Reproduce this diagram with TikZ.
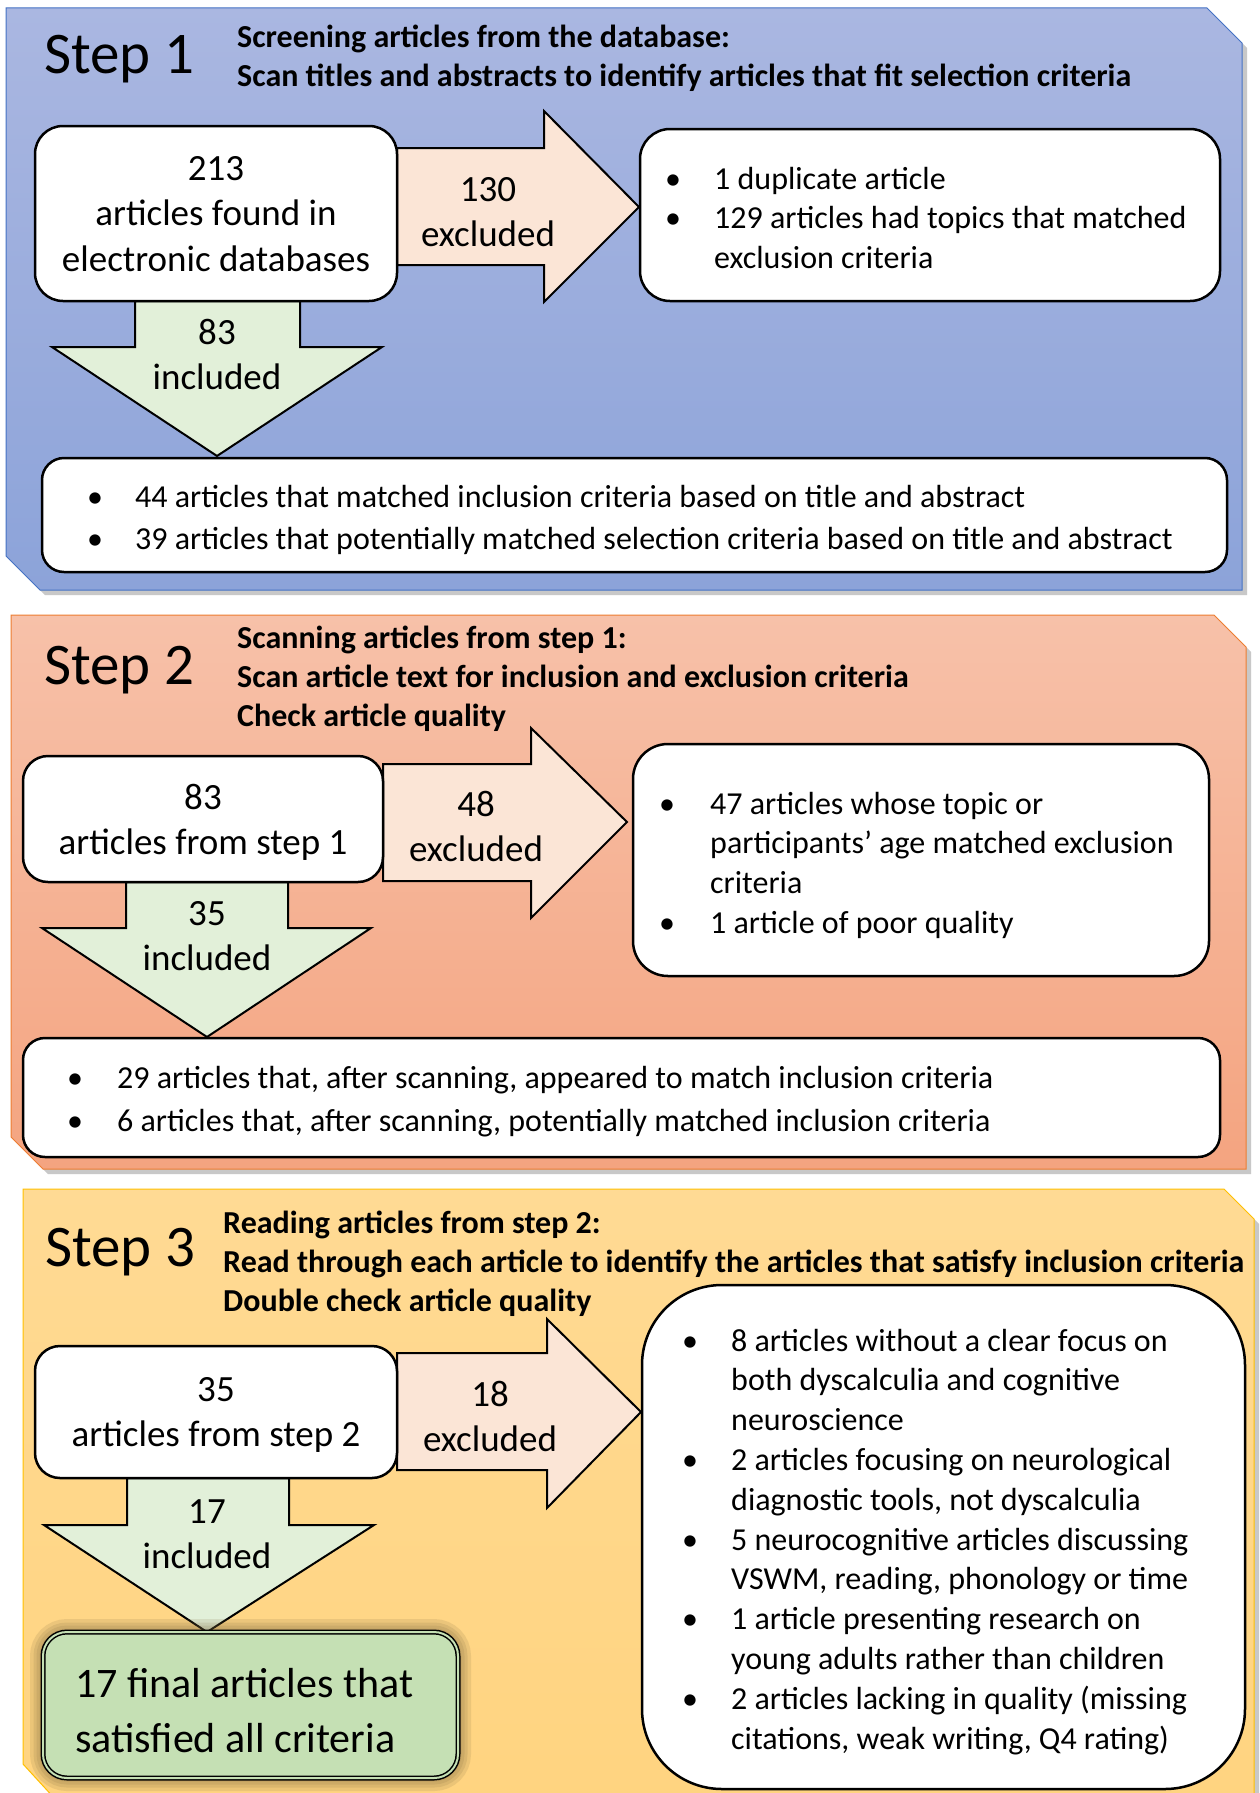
\documentclass[tikz,border=0pt]{standalone}
\usepackage{fontspec}
\setmainfont{Carlito}
\usetikzlibrary{shadows}

\definecolor{p1top}{RGB}{170,183,225}
\definecolor{p1bot}{RGB}{140,163,217}
\definecolor{p1line}{RGB}{68,114,196}
\definecolor{p2top}{RGB}{247,193,169}
\definecolor{p2bot}{RGB}{244,164,128}
\definecolor{p2line}{RGB}{237,125,49}
\definecolor{p3top}{RGB}{255,218,148}
\definecolor{p3bot}{RGB}{255,212,128}
\definecolor{p3line}{RGB}{255,192,0}
\definecolor{exfill}{RGB}{251,229,214}
\definecolor{infill}{RGB}{226,240,217}
\definecolor{finfill}{RGB}{197,224,180}
\definecolor{glowc}{RGB}{120,100,60}

\newcommand\ctext[2]{\parbox[t]{#1}{\centering #2}}
\newcommand\ltext[2]{\parbox[t]{#1}{\raggedright #2}}
\newcommand\bitem[2]{\par\noindent\hangindent=#1\hangafter=1\makebox[#1][l]{\makebox[0pt]{\textbullet}}#2}

\tikzset{
  panel/.style={draw=#1line, line width=1pt, top color=#1top, bottom color=#1bot,
    drop shadow={shadow xshift=5pt, shadow yshift=-5pt, opacity=0.3, fill=black!70}},
  wbox/.style={draw=black, line width=2.5pt, fill=white, inner sep=0pt},
  exarrow/.style={draw=black, line width=2pt, fill=exfill, line join=miter},
  inarrow/.style={draw=black, line width=2pt, fill=infill, line join=miter},
  steplbl/.style={anchor=base west, inner sep=0pt, font=\fontsize{59}{62}\selectfont},
  hdr/.style={anchor=base west, inner sep=0pt, font=\fontsize{32}{39}\selectfont\bfseries},
  body/.style={anchor=base, inner sep=0pt, font=\fontsize{37}{45.5}\selectfont},
  blist/.style={anchor=base west, inner sep=0pt, font=\fontsize{32}{#1}\selectfont},
  finalbox/.style={draw=black, line width=1.5pt, double=finfill, double distance=2pt, fill=finfill, inner sep=0pt},
}

\begin{document}
\begin{tikzpicture}[x=1pt,y=-1pt]
\useasboundingbox (0,0) rectangle (1260,1793);
\fill[white] (0,0) rectangle (1260,1793);

% ---------- panels ----------
\path[panel=p1] (6,8) -- (1207,8) -- (1242,43) -- (1242,590) -- (40,590) -- (6,556) -- cycle;
\path[panel=p2] (11,615) -- (1214,615) -- (1246,647) -- (1246,1169) -- (43,1169) -- (11,1137) -- cycle;
\path[panel=p3] (23,1189) -- (1224,1189) -- (1254,1219) -- (1254,1800) -- (56,1800) -- (23,1764) -- cycle;

% ---------- Step 1 ----------
\node[steplbl] (s1) at (44,74) {Step 1};
\node[hdr] (h1) at (237,48) {\ltext{1000pt}{Screening articles from the database:\\Scan titles and abstracts to identify articles that fit selection criteria}};

\draw[exarrow] (397,148) -- (544,148) -- (544,111) -- (639,207) -- (544,302) -- (544,265) -- (397,265) -- cycle;
\draw[inarrow] (135,301) -- (135,347) -- (52,347) -- (217,456) -- (382,347) -- (300,347) -- (300,301) -- cycle;

\node[wbox, rounded corners=28pt, minimum width=362pt, minimum height=175pt] (a1) at (216,213.5) {};
\node[wbox, rounded corners=30pt, minimum width=580pt, minimum height=172pt] (b1) at (930,215) {};
\node[wbox, rounded corners=22pt, minimum width=1185pt, minimum height=114pt] (c1) at (634.5,515) {};

\node[body] (a1t) at (216,180) {\ctext{340pt}{213\\articles found in\\electronic databases}};
\node[body] (x1t) at (488,201) {\ctext{150pt}{130\\excluded}};
\node[body] (i1t) at (217,344) {\ctext{150pt}{83\\included}};
\node[blist=39.5] (b1t) at (673,189) {\parbox[t]{540pt}{\raggedright
  \bitem{41pt}{1 duplicate article}
  \bitem{41pt}{129 articles had topics that matched\newline exclusion criteria}}};
\node[blist=42] (c1t) at (95,507) {\parbox[t]{1120pt}{\raggedright
  \bitem{40pt}{44 articles that matched inclusion criteria based on title and abstract}
  \bitem{40pt}{39 articles that potentially matched selection criteria based on title and abstract}}};

% ---------- Step 2 ----------
\node[steplbl] (s2) at (44,684) {Step 2};
\node[hdr] (h2) at (237,648) {\ltext{1000pt}{Scanning articles from step 1:\\Scan article text for inclusion and exclusion criteria\\Check article quality}};

\draw[exarrow] (383,764) -- (531,764) -- (531,728) -- (627,822) -- (531,918) -- (531,881) -- (383,881) -- cycle;
\draw[inarrow] (126,882) -- (126,928) -- (42,928) -- (207,1037) -- (371,928) -- (288,928) -- (288,882) -- cycle;

\node[wbox, rounded corners=25pt, minimum width=360pt, minimum height=126pt] (a2) at (203,819) {};
\node[wbox, rounded corners=35pt, minimum width=576pt, minimum height=232pt] (b2) at (921,860) {};
\node[wbox, rounded corners=22pt, minimum width=1197pt, minimum height=119pt] (c2) at (621.5,1097.5) {};

\node[body] (a2t) at (203,809) {\ctext{340pt}{83\\articles from step 1}};
\node[body] (x2t) at (476,816) {\ctext{150pt}{48\\excluded}};
\node[body] (i2t) at (207,925) {\ctext{150pt}{35\\included}};
\node[blist=39.7] (b2t) at (667,814) {\parbox[t]{530pt}{\raggedright
  \bitem{43pt}{47 articles whose topic or\newline participants’ age matched exclusion\newline criteria}
  \bitem{43pt}{1 article of poor quality}}};
\node[blist=43] (c2t) at (75,1088) {\parbox[t]{1120pt}{\raggedright
  \bitem{42pt}{29 articles that, after scanning, appeared to match inclusion criteria}
  \bitem{42pt}{6 articles that, after scanning, potentially matched inclusion criteria}}};

% ---------- Step 3 ----------
\node[steplbl] (s3) at (45,1266) {Step 3};
\node[hdr] (h3) at (223,1233) {\ltext{1030pt}{Reading articles from step 2:\\Read through each article to identify the articles that satisfy inclusion criteria\\Double check article quality}};

\draw[exarrow] (397,1353) -- (547,1353) -- (547,1319) -- (641,1412) -- (547,1508) -- (547,1470) -- (397,1470) -- cycle;
\draw[inarrow] (127,1478) -- (127,1525) -- (44,1525) -- (207,1632) -- (374,1525) -- (289,1525) -- (289,1478) -- cycle;

\node[wbox, rounded corners=25pt, minimum width=362pt, minimum height=132pt] (a3) at (216,1412) {};
\node[wbox, rounded corners=80pt, minimum width=603pt, minimum height=504pt] (b3) at (943.5,1537) {};

\foreach \w in {26,19,13,7}
  \draw[line width=\w pt, draw=glowc, opacity=0.14, rounded corners=24pt] (43,1632) rectangle (458,1778);
\node[finalbox, rounded corners=24pt, minimum width=415pt, minimum height=146pt] (fin) at (250.5,1705) {};

\node[body] (a3t) at (216,1401) {\ctext{340pt}{35\\articles from step 2}};
\node[body] (x3t) at (490,1406) {\ctext{150pt}{18\\excluded}};
\node[body] (i3t) at (207,1523) {\ctext{150pt}{17\\included}};
\node[blist=39.8] (b3t) at (690,1351) {\parbox[t]{540pt}{\raggedright
  \bitem{41pt}{8 articles without a clear focus on\newline both dyscalculia and cognitive\newline neuroscience}
  \bitem{41pt}{2 articles focusing on neurological\newline diagnostic tools, not dyscalculia}
  \bitem{41pt}{5 neurocognitive articles discussing\newline VSWM, reading, phonology or time}
  \bitem{41pt}{1 article presenting research on\newline young adults rather than children}
  \bitem{41pt}{2 articles lacking in quality (missing\newline citations, weak writing, Q4 rating)}}};
\node[anchor=base west, inner sep=0pt, font=\fontsize{42}{55}\selectfont] (fint) at (75,1697) {\ltext{380pt}{17 final articles that\\satisfied all criteria}};
\end{tikzpicture}
\end{document}
